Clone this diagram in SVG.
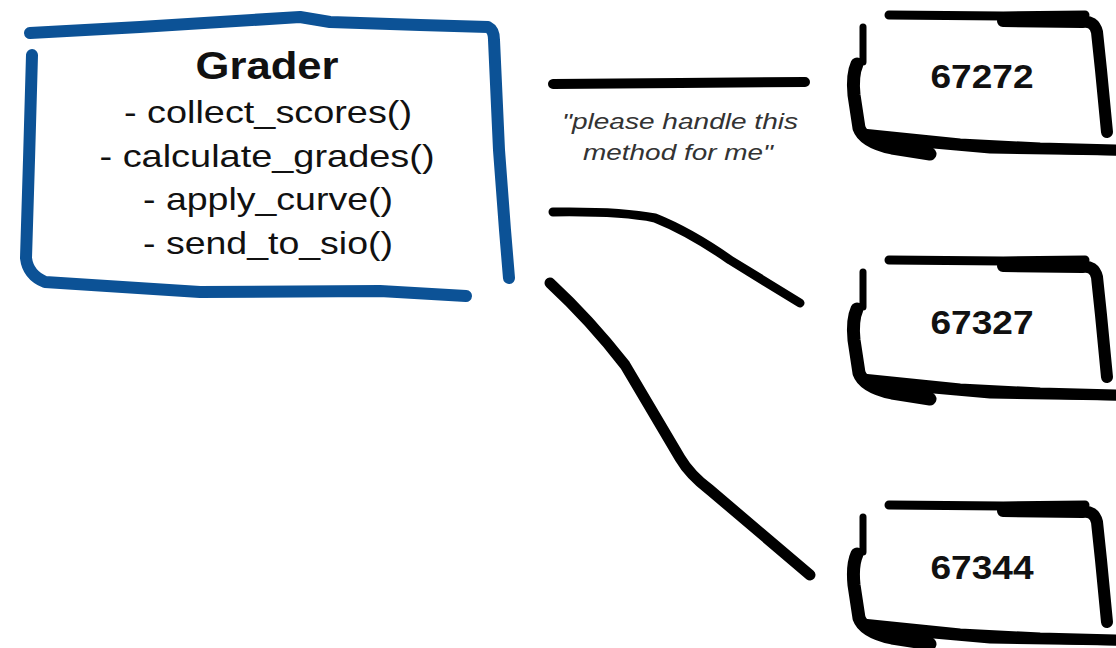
<svg xmlns="http://www.w3.org/2000/svg" width="1116" height="648" viewBox="0 0 1116 648">
<defs>
<style>
.blue{fill:none;stroke:#0c5296;stroke-linecap:round;stroke-linejoin:round}
.ink{fill:none;stroke:#000;stroke-linecap:round;stroke-linejoin:round}
.t{font-family:"Liberation Sans",Arial,sans-serif;fill:#111}
.num{font-family:"Liberation Sans",Arial,sans-serif;font-weight:bold;font-size:34px;fill:#111;text-anchor:middle}
.lbl{font-family:"Liberation Sans",Arial,sans-serif;font-style:italic;font-size:22px;fill:#333;text-anchor:middle}
</style>
<g id="sketchbox">
<path class="ink" stroke-width="9" d="M889,15 L1003,16 L1085,15"/>
<path class="ink" stroke-width="12" d="M1003,21 L1082,22 Q1094,20 1097,32 L1101,70 L1107,132"/>
<path class="ink" stroke-width="7" d="M863,27 L863,62"/>
<path class="ink" stroke-width="13" d="M857,64 Q852,75 854,95 L859,128 Q864,142 892,148 L930,154"/>
<path class="ink" stroke-width="11" d="M862,134 L960,144 L1040,148 L1116,150"/>
<path class="ink" stroke-width="5" d="M900,143 L990,151 L1116,153"/>
</g>
</defs>
<g id="connectors">
<path class="ink" stroke-width="10" d="M553,84 L680,83 L805,82"/>
<path class="ink" stroke-width="9" d="M553,212 Q620,211 655,218 Q690,232 730,260 L800,303"/>
<path class="ink" stroke-width="11" d="M550,283 Q590,320 625,365 L680,458 Q690,475 710,490 L810,575"/>
<text class="lbl" x="680" y="129" textLength="236" lengthAdjust="spacingAndGlyphs">"please handle this</text>
<text class="lbl" x="678" y="160" textLength="190" lengthAdjust="spacingAndGlyphs">method for me"</text>
</g>
<g id="grader">
<path class="blue" stroke-width="12" d="M30,33 L140,27 L300,17 L330,22 L420,25 L488,27 Q494,30 494,40 L499,150 L505,230 L509,278"/>
<path class="blue" stroke-width="12" d="M32,55 L29,160 L26,258 Q28,275 45,282 L200,292 L380,291 L466,296"/>
<text class="t" x="267" y="79" font-size="38" font-weight="bold" text-anchor="middle" textLength="143" lengthAdjust="spacingAndGlyphs">Grader</text>
<text class="t" x="268" y="123" font-size="32" text-anchor="middle" textLength="288" lengthAdjust="spacingAndGlyphs">- collect_scores()</text>
<text class="t" x="267" y="167" font-size="32" text-anchor="middle" textLength="335" lengthAdjust="spacingAndGlyphs">- calculate_grades()</text>
<text class="t" x="268" y="210" font-size="32" text-anchor="middle" textLength="250" lengthAdjust="spacingAndGlyphs">- apply_curve()</text>
<text class="t" x="268" y="254" font-size="32" text-anchor="middle" textLength="250" lengthAdjust="spacingAndGlyphs">- send_to_sio()</text>
</g>
<g id="n67272">
<use href="#sketchbox"/>
<text class="num" x="982" y="88" textLength="103" lengthAdjust="spacingAndGlyphs">67272</text>
</g>
<g id="n67327">
<use href="#sketchbox" transform="translate(0,245)"/>
<text class="num" x="982" y="334" textLength="103" lengthAdjust="spacingAndGlyphs">67327</text>
</g>
<g id="n67344">
<use href="#sketchbox" transform="translate(0,490)"/>
<text class="num" x="982" y="579" textLength="103" lengthAdjust="spacingAndGlyphs">67344</text>
</g>
</svg>
